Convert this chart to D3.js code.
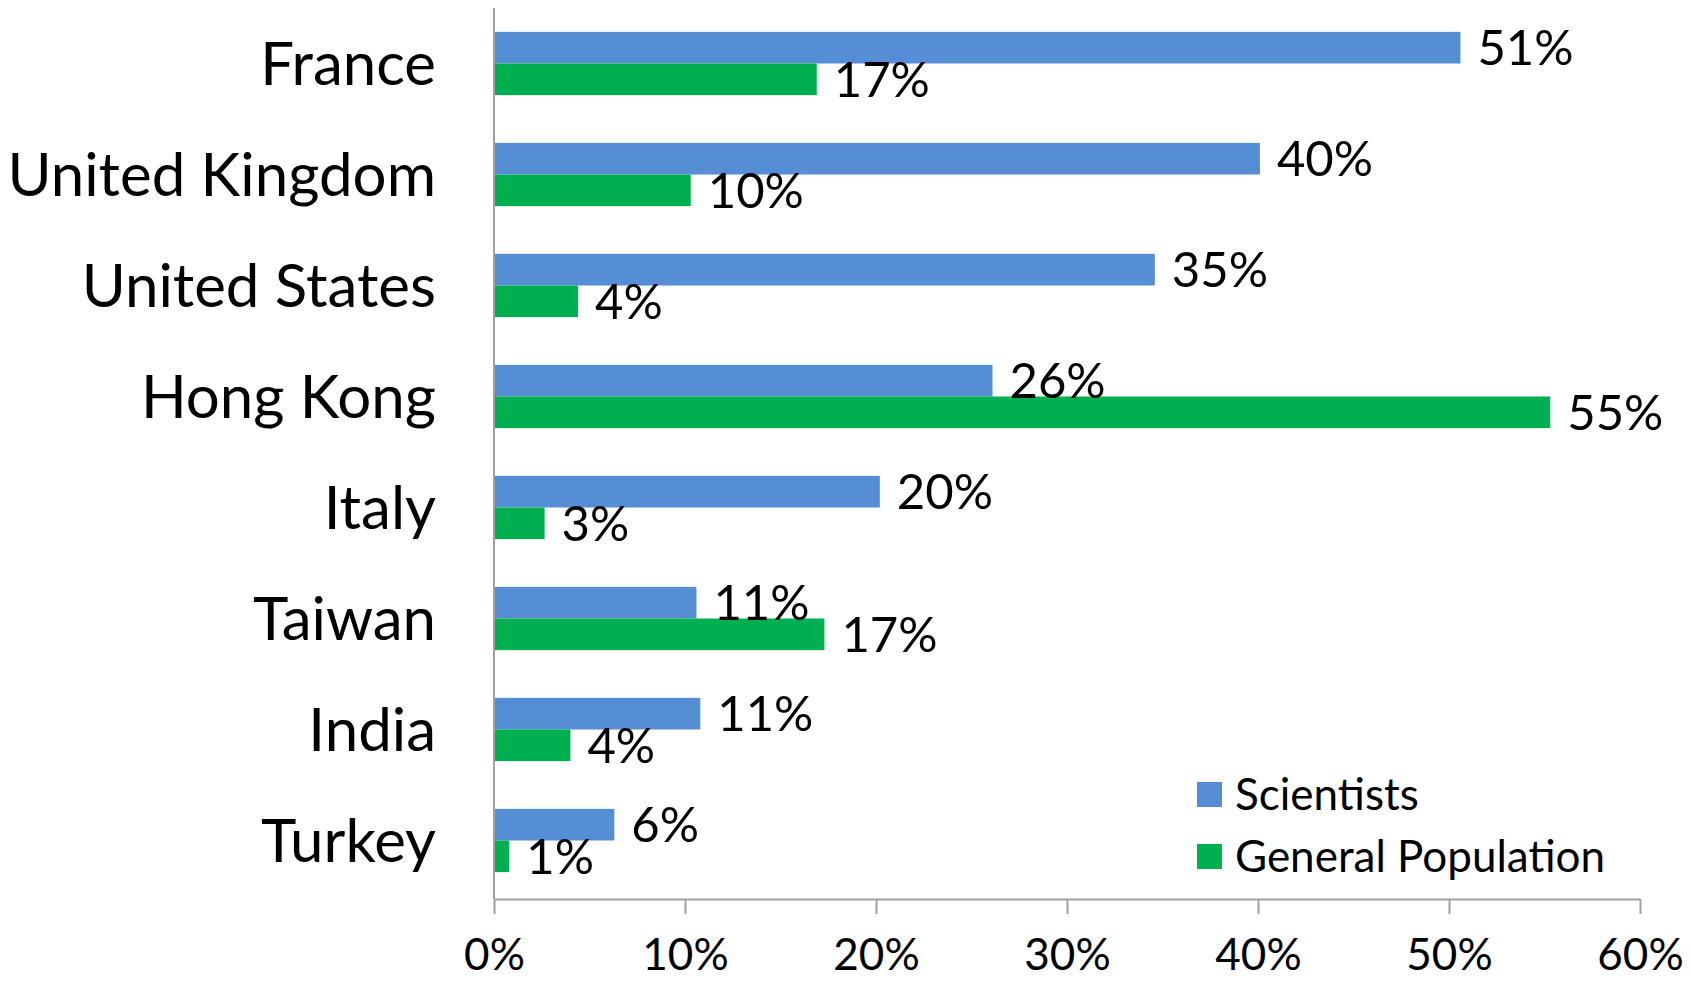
<html>
    <head>
        <style>
        body {
            margin: 0;
            background: white;
        }

        svg, svg text {
            font-family: "Lato", sans-serif;
        }

        .x .domain, .y .domain {
            stroke: #A0A0A0;
            stroke-width: 2;
        }

        .x .tick line {
            stroke: #A0A0A0;
            stroke-width: 2;
        }

        .y .tick line {
            display: none;
        }
        </style>
    </head>
    <body>
        <div id="chart"></div>
        <script src="https://d3js.org/d3.v7.min.js"></script>
        <script>

            let countries = ["France", "United Kingdom", "United States", "Hong Kong", "Italy", "Taiwan", "India", "Turkey"]
            let scientists = [50.6, 40.1, 34.6, 26.1, 20.2, 10.6, 10.8, 6.3]
            let general = [16.9, 10.3, 4.4, 55.3, 2.65, 17.3, 4.0, 0.8]
            let seriesNames = ["Scientists", "General Population"]
            let xTicks = [0, 10, 20, 30, 40, 50, 60]

            let width = 1691
            let height = 981

            let margin = {top: 8, right: 51, bottom: 85, left: 494}

            let svg = d3.select("#chart")
                .append("svg")
                .attr("width", width)
                .attr("height", height)

            let data = countries.map((c, i) => ({country: c, sci: scientists[i], gen: general[i]}))

            let x = d3.scaleLinear()
                .domain([0, 60])
                .range([margin.left, width - margin.right])

            let y = d3.scaleBand()
                .domain(countries)
                .range([margin.top, height - margin.bottom])
                .paddingInner(0.43)
                .paddingOuter(0.215)

            let sub = d3.scaleBand()
                .domain(["sci", "gen"])
                .range([0, y.bandwidth()])

            let color = d3.scaleOrdinal()
                .domain(["sci", "gen"])
                .range(["#558ED5", "#00B050"])

            // bars
            let groups = svg.append("g")
                .attr("class", "bars")
                .selectAll("g")
                .data(data)
                .join("g")
                .attr("transform", d => `translate(0, ${y(d.country)})`)

            let keys = ["sci", "gen"]

            groups.selectAll("rect")
                .data(d => keys.map(k => ({key: k, value: d[k]})))
                .join("rect")
                .attr("x", x(0))
                .attr("y", d => sub(d.key))
                .attr("width", d => x(d.value) - x(0))
                .attr("height", sub.bandwidth())
                .style("fill", d => color(d.key))

            groups.selectAll("text")
                .data(d => keys.map(k => ({key: k, value: d[k]})))
                .join("text")
                .attr("x", d => x(d.value) + 17)
                .attr("y", d => sub(d.key) + sub.bandwidth() / 2)
                .attr("dy", "0.36em")
                .style("font-size", "49px")
                .text(d => Math.round(d.value) + "%")

            // axes
            let xAxis = svg.append("g")
                .attr("class", "x axis")
                .attr("transform", `translate(0, ${height - margin.bottom + 3})`)
                .call(d3.axisBottom(x)
                    .tickValues(xTicks)
                    .tickSize(15)
                    .tickSizeOuter(0)
                    .tickPadding(25)
                    .tickFormat(d => d + "%"))

            xAxis.selectAll("text")
                .style("font-size", "44px")
                .style("fill", "#000")

            let yAxis = svg.append("g")
                .attr("class", "y axis")
                .attr("transform", `translate(${margin.left}, 0)`)
                .call(d3.axisLeft(y).tickSize(0).tickPadding(58).tickSizeOuter(0))

            yAxis.select(".domain")
                .attr("d", `M0,${margin.top}V${height - margin.bottom + 3}`)

            yAxis.selectAll("text")
                .style("font-size", "60px")
                .style("fill", "#000")
                .attr("dy", "0.36em")

            // legend
            let legend = svg.append("g")
                .attr("class", "legend")
                .attr("transform", "translate(1197, 782)")
                .selectAll("g")
                .data(keys)
                .join("g")
                .attr("transform", (d, i) => `translate(0, ${i * 62})`)

            legend.append("rect")
                .attr("width", 25)
                .attr("height", 25)
                .style("fill", d => color(d))

            legend.append("text")
                .attr("x", 38)
                .attr("y", 12.5)
                .attr("dy", "0.36em")
                .style("font-size", "44px")
                .text((d, i) => seriesNames[i])

        </script>
    </body>
</html>
